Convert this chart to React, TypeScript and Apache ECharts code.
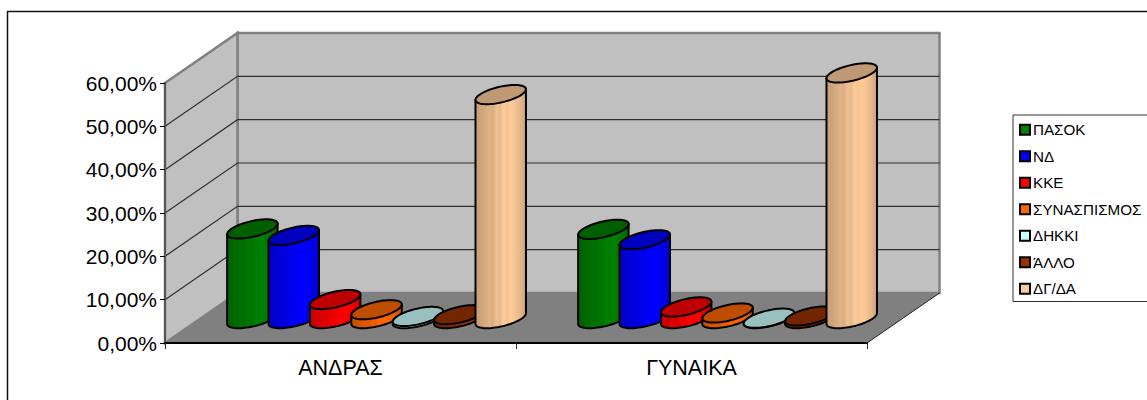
import React, { useEffect, useRef } from "react";
import * as echarts from "echarts";

const categories = ["ΑΝΔΡΑΣ", "ΓΥΝΑΙΚΑ"];
const parties = ["ΠΑΣΟΚ", "ΝΔ", "ΚΚΕ", "ΣΥΝΑΣΠΙΣΜΟΣ", "ΔΗΚΚΙ", "ΆΛΛΟ", "ΔΓ/ΔΑ"];
const pasok = [20.7, 20.6];
const nd = [19.2, 18.2];
const kke = [4.4, 2.7];
const syn = [2.05, 1.3];
const dikki = [0.5, 0.1];
const allo = [0.9, 0.6];
const dgda = [51.7, 56.7];
const values = [pasok, nd, kke, syn, dikki, allo, dgda];
const colors = ["#008000", "#0000FF", "#FF0000", "#FF6600", "#CCFFFF", "#993300", "#FFCC99"];
const yTicks = [0, 10, 20, 30, 40, 50, 60];

const DEPTH_X = 72.5;
const DEPTH_Y = 50;

function shade(hex: string, f: number) {
  const n = parseInt(hex.slice(1), 16);
  const r = Math.round(((n >> 16) & 255) * f);
  const g = Math.round(((n >> 8) & 255) * f);
  const b = Math.round((n & 255) * f);
  return `rgb(${r},${g},${b})`;
}

function bodyFill(hex: string) {
  const stops: [number, number][] = [
    [0, 0.78], [0.1, 0.8], [0.2, 0.84], [0.28, 0.88], [0.34, 0.85], [0.42, 0.94], [0.48, 0.9],
    [0.56, 1], [0.62, 0.96], [0.7, 1], [0.78, 0.96], [0.88, 0.9], [1, 0.8],
  ];
  return new echarts.graphic.LinearGradient(
    0, 0, 1, 0,
    stops.map(([offset, f]) => ({ offset, color: shade(hex, f) }))
  );
}

const renderWalls = (params: any, api: any) => {
  const { x, y, width, height } = params.coordSys;
  const bottom = y + height;
  const right = x + width;
  const wall = { fill: "#C0C0C0", stroke: "#808080", lineWidth: 2.5 };
  const floor = [[x, bottom], [x + DEPTH_X, bottom - DEPTH_Y], [right + DEPTH_X, bottom - DEPTH_Y], [right, bottom]];
  const children: any[] = [
    {
      type: "polygon",
      shape: { points: [[x + DEPTH_X, y - DEPTH_Y], [right + DEPTH_X, y - DEPTH_Y], [right + DEPTH_X, bottom - DEPTH_Y], [x + DEPTH_X, bottom - DEPTH_Y]] },
      style: wall,
    },
    {
      type: "polygon",
      shape: { points: [[x, y], [x + DEPTH_X, y - DEPTH_Y], [x + DEPTH_X, bottom - DEPTH_Y], [x, bottom]] },
      style: wall,
    },
    {
      type: "polygon",
      shape: { points: floor },
      style: { fill: "#808080", stroke: "none" },
    },
    {
      type: "line",
      shape: { x1: right, y1: bottom, x2: right + DEPTH_X, y2: bottom - DEPTH_Y },
      style: { stroke: "#222", lineWidth: 1 },
    },
  ];
  yTicks.forEach((t) => {
    if (t === 0 || t === 60) return;
    const py = api.coord([0, t])[1];
    children.push({
      type: "polyline",
      shape: { points: [[x, py], [x + DEPTH_X, py - DEPTH_Y], [right + DEPTH_X, py - DEPTH_Y]] },
      style: { fill: "none", stroke: "#303030", lineWidth: 1.2 },
    });
  });
  return { type: "group", children };
};

const makeCylinder = (index: number) => (params: any, api: any) => {
  const band = api.size([1, 0])[0];
  const spacing = band / 8.48;
  const base = api.coord([api.value(0), 0]);
  const top = api.coord([api.value(0), api.value(1)]);
  const cx = base[0] + (index - 3) * spacing + DEPTH_X / 2 - 0.2;
  const by = base[1] - DEPTH_Y / 2 + 0.6;
  const ty = top[1] - DEPTH_Y / 2 + 0.6;
  const r = 21;
  const dx = 14;
  const dy = 9.6;
  const t0 = Math.atan2(dx, r);
  const pt = (c: number, v: number, t: number) => [
    c + r * Math.cos(t) + dx * Math.sin(t),
    v - dy * Math.sin(t),
  ];
  const N = 40;
  const bodyPts: number[][] = [];
  for (let i = 0; i <= N; i++) bodyPts.push(pt(cx, by, t0 + Math.PI + (Math.PI * i) / N));
  bodyPts.push(pt(cx, ty, t0));
  bodyPts.push(pt(cx, ty, t0 + Math.PI));
  const topPts: number[][] = [];
  for (let i = 0; i < N * 2; i++) topPts.push(pt(cx, ty, (Math.PI * i) / N));
  const stroke = { stroke: "#000", lineWidth: 2, lineJoin: "round" };
  return {
    type: "group",
    children: [
      { type: "polygon", shape: { points: bodyPts }, style: { fill: bodyFill(colors[index]), ...stroke } },
      { type: "polygon", shape: { points: topPts }, style: { fill: shade(colors[index], 0.75), ...stroke } },
    ],
  };
};

export default function App() {
  const ref = useRef<HTMLDivElement>(null);
  useEffect(() => {
    const chart = echarts.init(ref.current!, null, { renderer: "svg" });
    chart.setOption({
      animation: false,
      backgroundColor: "#fff",
      textStyle: { fontFamily: "Liberation Sans" },
      grid: { left: 165, right: 280, top: 83, bottom: 57 },
      graphic: [
        {
          type: "rect",
          silent: true,
          shape: { x: 7.5, y: 11.5, width: 1200, height: 450 },
          style: { fill: "none", stroke: "#111", lineWidth: 1.5 },
          z: 0,
        },
      ],
      legend: {
        orient: "vertical",
        left: 1013,
        top: 115,
        padding: [6, 30, 4, 6],
        itemWidth: 10,
        itemHeight: 10,
        itemGap: 9,
        borderColor: "#333",
        borderWidth: 1,
        icon: "rect",
        itemStyle: { borderColor: "#000", borderWidth: 2 },
        textStyle: { fontSize: 15.2, color: "#000", fontFamily: "Liberation Sans", lineHeight: 17.5, padding: [0, 0, 0, -2] },
        data: parties,
      },
      xAxis: {
        type: "category",
        data: categories,
        z: 5,
        axisLine: { lineStyle: { color: "#000", width: 2 } },
        axisTick: { show: true, length: 6, lineStyle: { color: "#333" } },
        axisLabel: { fontSize: 21.5, color: "#000", margin: 14 },
      },
      yAxis: {
        type: "value",
        min: 0,
        max: 60,
        interval: 10,
        z: 5,
        splitLine: { show: false },
        axisLine: { show: true, lineStyle: { color: "#555", width: 2 } },
        axisTick: { show: true, length: 5, lineStyle: { color: "#000" } },
        axisLabel: {
          fontSize: 21,
          color: "#000",
          margin: 8,
          padding: [8, 0, 0, 0],
          formatter: (v: number) => v.toFixed(2).replace(".", ",") + "%",
        },
      },
      series: [
        {
          name: "walls",
          type: "custom",
          z: 1,
          silent: true,
          clip: false,
          renderItem: renderWalls,
          data: [[0, 0]],
        },
        ...parties.map((name, i) => ({
          name,
          type: "custom",
          z: 2,
          clip: false,
          itemStyle: { color: colors[i] },
          renderItem: makeCylinder(i),
          encode: { x: 0, y: 1 },
          data: categories.map((_, c) => [c, values[i][c]]),
        })),
      ],
    });
    return () => chart.dispose();
  }, []);
  return <div ref={ref} style={{ position: "absolute", left: 0, top: 0, width: 1147, height: 400 }} />;
}
